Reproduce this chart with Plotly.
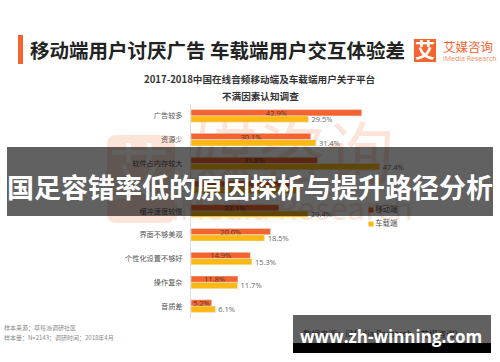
import plotly.graph_objects as go

CJK = "Noto Sans CJK SC"
W, H = 500, 362

categories = ["广告较多", "资源少", "软件占内存较大", " ", "缓冲速度较慢",
              "界面不够美观", "个性化设置不够好", "操作复杂", "音质差"]
mobile = [42.9, 30.1, 31.8, 25.0, 22.1, 20.0, 14.9, 11.8, 5.2]
car = [29.5, 31.4, 47.4, 27.0, 29.4, 18.5, 15.3, 11.7, 6.1]
mobile_labels = ["42.9%", "30.1%", "31.8%", "", "22.1%", "20.0%", "14.9%", "11.8%", "5.2%"]
car_labels = ["29.5%", "31.4%", "47.4%", "", "29.4%", "18.5%", "15.3%", "11.7%", "6.1%"]

ORANGE = "#f5642f"
YELLOW = "#fdb813"
WM = "#fde4d9"


def px(x):
    return x / W


def py(y):
    return 1 - y / H


fig = go.Figure()

# watermark layer (pixel-like axes underneath the bars)
fig.add_trace(go.Scatter(
    x=[139], y=[180], mode="text", text=["艾"], xaxis="x", yaxis="y", showlegend=False,
    textfont=dict(family=CJK, size=62, color="#ffffff"), hoverinfo="skip"))
fig.add_trace(go.Scatter(
    x=[292, 292], y=[162, 212], mode="text", text=["媒咨询", "iMedia Research"],
    xaxis="x", yaxis="y", showlegend=False,
    textfont=dict(family=CJK, size=[68, 32], color=WM), hoverinfo="skip"))
fig.add_trace(go.Scatter(
    x=[383], y=[335], mode="text", text=["数据来源：iiMedia Research（艾媒咨询）"],
    xaxis="x", yaxis="y", showlegend=False,
    textfont=dict(family=CJK, size=8.5, color="#555555"), hoverinfo="skip"))

# bars
fig.add_trace(go.Bar(
    y=categories, x=mobile, orientation="h", name="移动端", marker_color=ORANGE,
    text=mobile_labels, textposition="inside", insidetextanchor="middle",
    textangle=0, constraintext="none",
    textfont=dict(family="Open Sans", size=7.5, color="#4a3a30"),
    xaxis="x2", yaxis="y2", showlegend=False, cliponaxis=False))
fig.add_trace(go.Bar(
    y=categories, x=car, orientation="h", name="车载端", marker_color=YELLOW,
    text=car_labels, textposition="outside", constraintext="none",
    textangle=0, textfont=dict(family="Open Sans", size=7.5, color="#666666"),
    xaxis="x2", yaxis="y2", showlegend=False, cliponaxis=False))

# legend keys, drawn under the overlay band
fig.add_trace(go.Scatter(
    x=[371], y=[210], mode="markers+text", text=["移动端"], textposition="middle right",
    marker=dict(symbol="square", size=5, color=ORANGE), xaxis="x", yaxis="y", showlegend=False,
    textfont=dict(family=CJK, size=7.5, color="#555555"), hoverinfo="skip"))
fig.add_trace(go.Scatter(
    x=[371], y=[224], mode="markers+text", text=["车载端"], textposition="middle right",
    marker=dict(symbol="square", size=5, color=YELLOW), xaxis="x", yaxis="y", showlegend=False,
    textfont=dict(family=CJK, size=7.5, color="#555555"), hoverinfo="skip"))

shapes = [
    # watermark rounded square
    dict(type="path", xref="x", yref="y", layer="below", line_width=0, fillcolor=WM,
         path="M 117 135 L 165 135 Q 175 135 175 145 L 175 213 Q 175 223 165 223 "
              "L 117 223 Q 107 223 107 213 L 107 145 Q 107 135 117 135 Z"),
    # title accent, logo
    dict(type="rect", xref="x", yref="y", x0=18, x1=23, y0=35, y1=64,
         fillcolor=ORANGE, line_width=0, layer="below"),
    dict(type="rect", xref="x", yref="y", x0=414, x1=436, y0=39, y1=62,
         fillcolor=ORANGE, line_width=0, layer="below"),
    # overlay bands
    dict(type="rect", xref="x", yref="y", x0=7, x1=493, y0=147, y1=216,
         fillcolor="rgba(0,0,0,0.62)", line_width=0, layer="above"),
    dict(type="rect", xref="x", yref="y", x0=293, x1=491, y0=315, y1=343,
         fillcolor="rgba(0,0,0,0.62)", line_width=0, layer="above"),
    dict(type="rect", xref="x", yref="y", x0=293, x1=491, y0=343, y1=353,
         fillcolor="#000000", line_width=0, layer="above"),
]


def note(x, y, text, size, color, anchor="left", bold=False, family=CJK):
    return dict(x=px(x), y=py(y), xref="paper", yref="paper", text=f"<b>{text}</b>" if bold else text,
                showarrow=False, xanchor=anchor, yanchor="middle",
                font=dict(family=family, size=size, color=color))


annotations = [
    note(28, 50, "移动端用户讨厌广告 车载端用户交互体验差", 19.5, "#222222", bold=True),
    note(425, 50, "艾", 20, "#ffffff", "center", True),
    note(441, 47, "艾媒咨询", 12.5, ORANGE),
    note(441, 58, "iMedia Research", 7, "#f08a60", family="Open Sans"),
    note(260, 79, "2017-2018中国在线音频移动端及车载端用户关于平台", 9.6, "#333333", "center", True),
    note(260, 96, "不满因素认知调查", 9.6, "#333333", "center", True),
    note(2, 327, "样本来源：草莓派调研社区", 6, "#888888"),
    note(2, 337, "样本量：N=2143；调研时间：2018年4月", 6, "#888888"),
    note(250, 186, "国足容错率低的原因探析与提升路径分析", 27, "#ffffff", "center", True),
    note(391, 336, "www.zh-winning.com", 17, "#ffffff", "center", True, "Open Sans"),
]

fig.update_layout(
    width=W, height=H, margin=dict(l=0, r=0, t=0, b=0), autosize=False,
    paper_bgcolor="#ffffff", plot_bgcolor="rgba(0,0,0,0)",
    barmode="group", bargap=0.47, bargroupgap=0,
    shapes=shapes, annotations=annotations,
    xaxis=dict(domain=[0, 1], range=[0, W], visible=False, fixedrange=True),
    yaxis=dict(domain=[0, 1], range=[H, 0], visible=False, fixedrange=True),
    xaxis2=dict(domain=[px(191), px(191 + 60 * 3.98)], range=[0, 60], anchor="y2",
                visible=False, fixedrange=True),
    yaxis2=dict(domain=[py(318), py(104)], range=[8.5, -0.5], anchor="x2", type="category",
                categoryorder="array", categoryarray=categories,
                showgrid=False, zeroline=False, showline=True, linecolor="#dddddd", linewidth=1,
                ticks="", ticklabelstandoff=6,
                tickfont=dict(family=CJK, size=7.2, color="#555555"), fixedrange=True),
    showlegend=False,
)

fig.write_html("out.html", config={"displayModeBar": False},
               post_script="document.body.style.margin='0';document.body.style.overflow='hidden';")
